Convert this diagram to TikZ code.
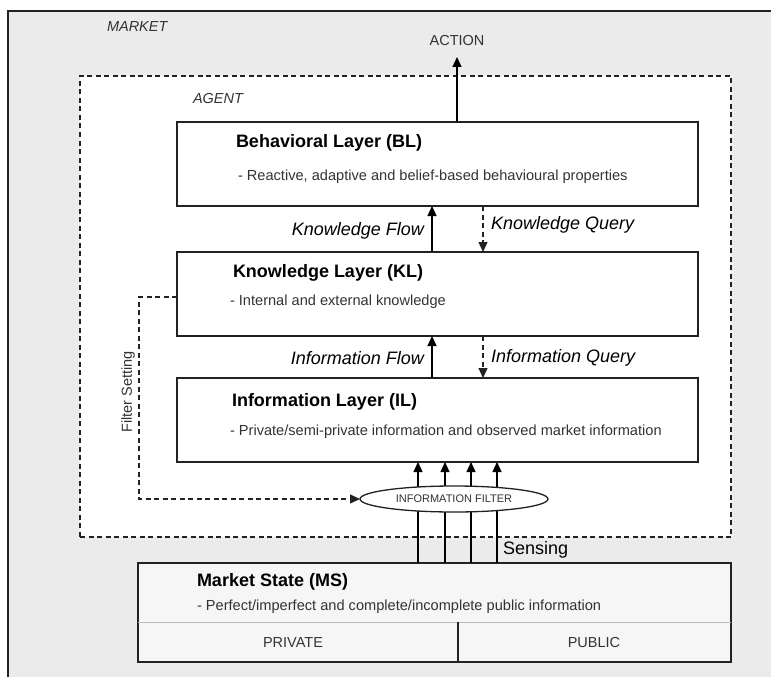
\documentclass[tikz,border=0pt]{standalone}
\usepackage{fontspec}
\setmainfont{Liberation Sans}
\usetikzlibrary{arrows.meta,shapes.geometric}
\definecolor{mktgray}{HTML}{EBEBEB}
\definecolor{msfill}{HTML}{F6F6F6}
\definecolor{linec}{HTML}{222222}
\definecolor{txtc}{HTML}{333333}
\definecolor{sepc}{HTML}{BBBBBB}
\tikzset{
  every node/.style={inner sep=0pt, outer sep=0pt},
  layerbox/.style={draw=linec, line width=1.3pt, fill=white, rectangle, anchor=north west},
  ttl/.style={anchor=west, font=\fontsize{18}{20}\selectfont\bfseries, text=black},
  sub/.style={anchor=west, font=\fontsize{14.6}{17}\selectfont, text=txtc},
  lbl/.style={font=\fontsize{18}{20}\selectfont\itshape, text=black},
  small/.style={font=\fontsize{14.5}{16}\selectfont, text=txtc},
  smallit/.style={font=\fontsize{14.5}{16}\selectfont\itshape, text=txtc},
  arr/.style={draw=black, line width=1.3pt, -{Triangle[length=10pt,width=9pt]}},
  dsh/.style={draw=linec, line width=1.3pt, dash pattern=on 5pt off 3.5pt},
}
\begin{document}
\begin{tikzpicture}[x=1pt,y=-1pt]
\useasboundingbox (0,0) rectangle (771,677);
\fill[white] (0,0) rectangle (771,677);
% market area
\fill[mktgray] (8,11) rectangle (771,677);
\draw[linec, line width=1.3pt] (8,677) -- (8,11) -- (771,11);
\node[smallit, anchor=west] (market) at (107,27) {MARKET};
% agent
\node[dsh, fill=white, rectangle, anchor=north west, minimum width=651, minimum height=461] (agent) at (80,76) {};
\node[smallit, anchor=west] (agentlbl) at (193,99) {AGENT};
% layers
\node[layerbox, minimum width=521, minimum height=84] (bl) at (177,122) {};
\node[layerbox, minimum width=521, minimum height=84] (kl) at (177,252) {};
\node[layerbox, minimum width=521, minimum height=84] (il) at (177,378) {};
\node[ttl] (blt) at (236,143) {Behavioral Layer (BL)};
\node[sub] (bls) at (238,177) {- Reactive, adaptive and belief-based behavioural properties};
\node[ttl] (klt) at (233,273) {Knowledge Layer (KL)};
\node[sub] (kls) at (230,302) {- Internal and external knowledge};
\node[ttl] (ilt) at (232,402) {Information Layer (IL)};
\node[sub] (ils) at (230,432) {- Private/semi-private information and observed market information};
% action
\node[small] (action) at (457,41) {ACTION};
\coordinate (ax) at (457,0);
\coordinate (atip) at (457,57);
\draw[arr] (ax |- bl.north) -- (atip);
% flows
\coordinate (fx) at (432,0);
\coordinate (qx) at (483,0);
\draw[arr] (fx |- kl.north) -- (fx |- bl.south);
\draw[arr, dsh] (qx |- bl.south) -- (qx |- kl.north);
\draw[arr] (fx |- il.north) -- (fx |- kl.south);
\draw[arr, dsh] (qx |- kl.south) -- (qx |- il.north);
\node[lbl, anchor=east] (kf) at (424,231) {Knowledge Flow};
\node[lbl, anchor=west] (kq) at (491,225) {Knowledge Query};
\node[lbl, anchor=east] (if) at (424,358) {Information Flow};
\node[lbl, anchor=west] (iq) at (491,358) {Information Query};
% market state
\node[draw=linec, line width=1.3pt, fill=msfill, rectangle, anchor=north west, minimum width=593, minimum height=99] (ms) at (138,563) {};
\coordinate (sepl) at (138,622);
\coordinate (sepr) at (731,622);
\coordinate (divx) at (458,0);
\draw[sepc, line width=1pt] (sepl) -- (sepr);
\draw[linec, line width=1.3pt] (divx |- sepl) -- (divx |- ms.south);
\node[ttl] (mst) at (197,582) {Market State (MS)};
\node[sub] (mss) at (197,607) {- Perfect/imperfect and complete/incomplete public information};
\node[small] (priv) at (293,643) {PRIVATE};
\node[small] (pub) at (594,643) {PUBLIC};
% sensing lines
\foreach \xx/\nm in {418/s1,445/s2,471/s3,497/s4}{
  \coordinate (\nm) at (\xx,0);
  \draw[arr] (\nm |- ms.north) -- (\nm |- il.south);
}
\node[draw=linec, line width=1.3pt, fill=white, ellipse, minimum width=188, minimum height=26] (filter) at (454,499) {};
\node[font=\fontsize{11}{12}\selectfont, text=txtc] (filtertxt) at (454,499) {INFORMATION FILTER};
\node[font=\fontsize{18}{20}\selectfont, text=black, anchor=west] (sensing) at (503,550) {Sensing};
% filter setting
\draw[arr, dsh] (kl.west |- 0,297) -- (139,297) |- (filter.west);
\node[small, rotate=90] (fs) at (128,392) {Filter Setting};
\end{tikzpicture}
\end{document}
